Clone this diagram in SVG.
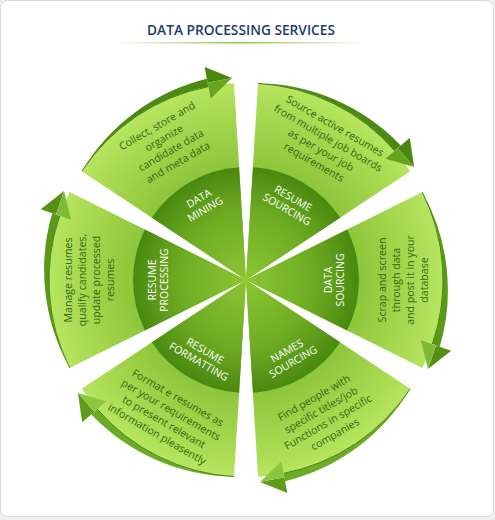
<svg xmlns="http://www.w3.org/2000/svg" width="495" height="520" viewBox="0 0 495 520">
<style>
.d{font-family:"Open Sans","Liberation Sans",sans-serif;font-size:10.6px;fill:#36670d;text-anchor:middle}
.t{font-family:"Open Sans","Liberation Sans",sans-serif;font-size:10.5px;fill:#ffffff;text-anchor:middle}
.lt{fill:url(#gLight)}
.in{fill:url(#gInner)}
.top .bd{fill:#4c8b12}.top .ho{fill:#4a870f}.top .hi{fill:#67a41f}
.side .bd{fill:#5a9818}.side .ho{fill:#558f15}.side .hi{fill:#80ba34}
.bot .bd{fill:#6cab24}.bot .ho{fill:#5e9c1c}.bot .hi{fill:#8cc63c}
.rm{fill:none;stroke:#3d750c;stroke-width:0.8}
</style>
<defs>
<radialGradient id="gLight" gradientUnits="userSpaceOnUse" cx="0" cy="0" r="200">
<stop offset="0.55" stop-color="#8cc53a"/>
<stop offset="0.75" stop-color="#a0d24a"/>
<stop offset="1" stop-color="#b8e660"/>
</radialGradient>
<radialGradient id="gInner" gradientUnits="userSpaceOnUse" cx="0" cy="0" r="114">
<stop offset="0" stop-color="#8cc634"/>
<stop offset="0.6" stop-color="#6eab22"/>
<stop offset="1" stop-color="#48880f"/>
</radialGradient>
<linearGradient id="gRule" x1="0" x2="1" y1="0" y2="0">
<stop offset="0" stop-color="#8dc63f" stop-opacity="0"/>
<stop offset="0.5" stop-color="#8dc63f"/>
<stop offset="1" stop-color="#8dc63f" stop-opacity="0"/>
</linearGradient>
<path id="sector" d="M0,0 L-87.9,-176.3 A197,197 0 0 1 87.9,-176.3 Z"/>
<path id="inner" d="M0,0 L-50.4,-101.1 A113,113 0 0 1 50.4,-101.1 Z"/>
<path id="band" d="M-87.9,-176.3 A201,201 0 0 1 66.7,-193.8 L64.1,-186.3 A197,197 0 0 0 -87.9,-176.3 Z"/>
<path id="headOut" d="M65.4,-190 L70.7,-205.2 L89,-182 Z"/>
<path id="headIn" d="M65.4,-190 L60.2,-174.9 L89,-182 Z"/>
<path id="rim" d="M-87.9,-176.3 A197,197 0 0 1 64.1,-186.3"/>
</defs>
<rect width="495" height="520" fill="#efefef"/>
<rect x="0.5" y="0.5" width="493" height="516" rx="7" fill="#ffffff" stroke="#d9d9d9"/>
<text x="241" y="34.5" font-family="'Open Sans','Liberation Sans',sans-serif" font-size="14" font-weight="600" fill="#1b3c6c" text-anchor="middle" textLength="188" lengthAdjust="spacingAndGlyphs">DATA PROCESSING SERVICES</text>
<rect x="115" y="42" width="250" height="1.5" fill="url(#gRule)"/>

<g id="data-mining" transform="translate(246,280) rotate(-30)">
<use href="#sector" class="lt"/><use href="#inner" class="in"/>
<text class="t" y="-88"><tspan x="0" dy="-2.5">DATA</tspan><tspan x="0" dy="12.5">MINING</tspan></text>
<text class="d" y="-157"><tspan x="0" dy="-17.3">Collect, store and</tspan><tspan x="0" dy="14">organize</tspan><tspan x="0" dy="14">candidate data</tspan><tspan x="0" dy="14">and meta data</tspan></text>
</g>
<g id="resume-sourcing" transform="translate(246,280) rotate(30)">
<use href="#sector" class="lt"/><use href="#inner" class="in"/>
<text class="t" y="-88"><tspan x="0" dy="-2.5">RESUME</tspan><tspan x="0" dy="12.5">SOURCING</tspan></text>
<text class="d" y="-157"><tspan x="0" dy="-17.3">Source active resumes</tspan><tspan x="0" dy="14">from multiple job boards</tspan><tspan x="0" dy="14">as per your job</tspan><tspan x="0" dy="14">requirements</tspan></text>
</g>
<g id="data-sourcing" transform="translate(246,280) rotate(90)">
<use href="#sector" class="lt"/><use href="#inner" class="in"/>
<g transform="translate(0,-88) rotate(180)"><text class="t"><tspan x="0" y="-2.5">DATA</tspan><tspan x="0" y="10">SOURCING</tspan></text></g>
<g transform="translate(0,-157) rotate(180)"><text class="d"><tspan x="0" y="-17.3">Scrap and screen</tspan><tspan x="0" y="-3.3">through data</tspan><tspan x="0" y="10.7">and post it in your</tspan><tspan x="0" y="24.7">database</tspan></text></g>
</g>
<g id="names-sourcing" transform="translate(246,280) rotate(150)">
<use href="#sector" class="lt"/><use href="#inner" class="in"/>
<g transform="translate(0,-88) rotate(180)"><text class="t"><tspan x="0" y="-2.5">NAMES</tspan><tspan x="0" y="10">SOURCING</tspan></text></g>
<g transform="translate(0,-157) rotate(180)"><text class="d"><tspan x="0" y="-17.3">Find people with</tspan><tspan x="0" y="-3.3">specific titles/job</tspan><tspan x="0" y="10.7">Functions in specific</tspan><tspan x="0" y="24.7">companies</tspan></text></g>
</g>
<g id="resume-formatting" transform="translate(246,280) rotate(210)">
<use href="#sector" class="lt"/><use href="#inner" class="in"/>
<g transform="translate(0,-88) rotate(180)"><text class="t"><tspan x="0" y="-2.5">RESUME</tspan><tspan x="0" y="10">FORMATTING</tspan></text></g>
<g transform="translate(0,-157) rotate(180)"><text class="d"><tspan x="0" y="-17.3">Format e resumes as</tspan><tspan x="0" y="-3.3">per your requirements</tspan><tspan x="0" y="10.7">to present relevant</tspan><tspan x="0" y="24.7">information pleasently</tspan></text></g>
</g>
<g id="resume-processing" transform="translate(246,280) rotate(-90)">
<use href="#sector" class="lt"/><use href="#inner" class="in"/>
<text class="t" y="-88"><tspan x="0" dy="-2.5">RESUME</tspan><tspan x="0" dy="12.5">PROCESSING</tspan></text>
<text class="d" y="-157"><tspan x="0" dy="-17.3">Manage resumes</tspan><tspan x="0" dy="14">qualify candidates,</tspan><tspan x="0" dy="14">update processed</tspan><tspan x="0" dy="14">resumes</tspan></text>
</g>

<g id="connectors">
<g class="top" transform="translate(246,280) rotate(-30)"><use href="#band" class="bd"/><use href="#rim" class="rm"/><use href="#headOut" class="ho"/><use href="#headIn" class="hi"/></g>
<g class="top" transform="translate(246,280) rotate(30)"><use href="#band" class="bd"/><use href="#rim" class="rm"/><use href="#headOut" class="ho"/><use href="#headIn" class="hi"/></g>
<g class="side" transform="translate(246,280) rotate(90)"><use href="#band" class="bd"/><use href="#rim" class="rm"/><use href="#headOut" class="ho"/><use href="#headIn" class="hi"/></g>
<g class="bot" transform="translate(246,280) rotate(150)"><use href="#band" class="bd"/><use href="#rim" class="rm"/><use href="#headOut" class="ho"/><use href="#headIn" class="hi"/></g>
<g class="bot" transform="translate(246,280) rotate(210)"><use href="#band" class="bd"/><use href="#rim" class="rm"/><use href="#headOut" class="ho"/><use href="#headIn" class="hi"/></g>
<g class="side" transform="translate(246,280) rotate(-90)"><use href="#band" class="bd"/><use href="#rim" class="rm"/><use href="#headOut" class="ho"/><use href="#headIn" class="hi"/></g>
</g>
</svg>
